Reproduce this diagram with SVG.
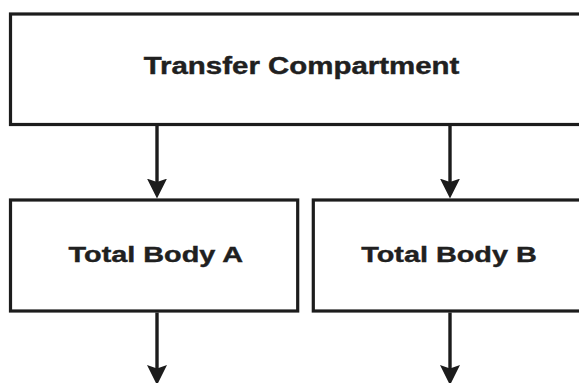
<svg xmlns="http://www.w3.org/2000/svg" width="579" height="383" viewBox="0 0 579 383">
  <style>
    .box { fill: #ffffff; stroke: #1c1c1c; stroke-width: 3.2; }
    .label { font-family: "Liberation Sans", Arial, sans-serif; font-weight: bold; fill: #202020; stroke: #202020; stroke-width: 0.4; text-anchor: middle; }
    .flow { stroke: #1c1c1c; stroke-width: 3.4; fill: none; marker-end: url(#head); }
  </style>
  <defs>
    <marker id="head" markerUnits="userSpaceOnUse" markerWidth="20" markerHeight="20" viewBox="0 0 18 18" refX="8" refY="9" orient="auto">
      <path d="M0,0 L18,9 L0,18 L3,9 Z" fill="#1c1c1c"/>
    </marker>
  </defs>
  <rect width="579" height="383" fill="#ffffff"/>

  <g id="transfer">
    <rect class="box" x="10.5" y="14" width="600" height="110.5"/>
    <!-- label widened horizontally, font kept at its cap height -->
    <text class="label" transform="translate(301.5 73.5) scale(1.28 1)" font-size="23">Transfer Compartment</text>
  </g>

  <g id="body-a">
    <rect class="box" x="10.5" y="200" width="287.2" height="111"/>
    <text class="label" transform="translate(155.8 262) scale(1.31 1)" font-size="22">Total Body A</text>
  </g>

  <g id="body-b">
    <rect class="box" x="313.3" y="200" width="300" height="111"/>
    <text class="label" transform="translate(449 262) scale(1.31 1)" font-size="22">Total Body B</text>
  </g>

  <g id="connectors">
    <line class="flow" x1="157" y1="126" x2="157" y2="187.5"/>
    <line class="flow" x1="450" y1="126" x2="450" y2="187.5"/>
    <line class="flow" x1="157" y1="312.5" x2="157" y2="374"/>
    <line class="flow" x1="450" y1="312.5" x2="450" y2="374"/>
  </g>
</svg>
